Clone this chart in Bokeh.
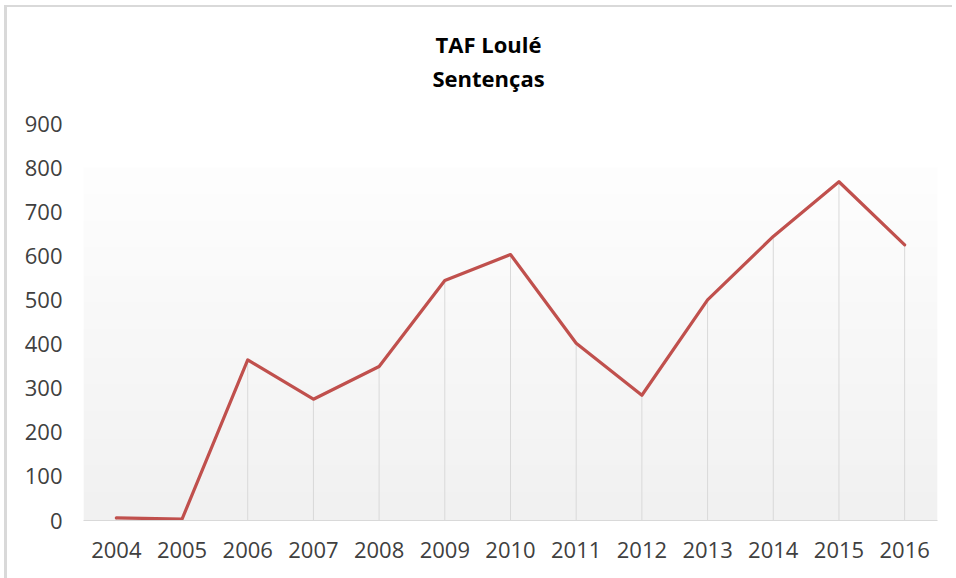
import numpy as np
from bokeh.plotting import figure
from bokeh.layouts import column, row
from bokeh.models import Range1d, FixedTicker, NumeralTickFormatter, Title, Div, Spacer
from bokeh.embed import file_html
from bokeh.resources import INLINE

# ---- data ----
years = [2004, 2005, 2006, 2007, 2008, 2009, 2010, 2011, 2012, 2013, 2014, 2015, 2016]
sentencas = [6, 3, 364, 275, 349, 544, 603, 402, 284, 500, 644, 768, 625]
y_ticks = [0, 100, 200, 300, 400, 500, 600, 700, 800, 900]
title_line1 = "TAF Loulé"
title_line2 = "Sentenças"

FONT = "Open Sans"
LABEL_COLOR = "#404040"

p = figure(
    frame_width=854, frame_height=397,
    x_range=Range1d(years[0] - 0.5, years[-1] + 0.5),
    y_range=Range1d(0, 900),
    output_backend="svg", toolbar_location=None,
    min_border_left=76, min_border_right=12,
    min_border_top=116, min_border_bottom=50,
    background_fill_color="white", border_fill_color="white",
    outline_line_color=None,
)

# titles (spacer first, then subtitle, then main title)
spacer = Title(text=" ", text_font_size="1px", standoff=26)
t2 = Title(text=title_line2, align="left", text_font=FONT, text_font_style="bold",
           text_font_size="22px", text_color="#000000", offset=349, standoff=4)
t1 = Title(text=title_line1, align="left", text_font=FONT, text_font_style="bold",
           text_font_size="22px", text_color="#000000", offset=352, standoff=0)
p.add_layout(spacer, "above")
p.add_layout(t2, "above")
p.add_layout(t1, "above")

# gradient plot-area background (white -> light gray), from 800 down to 0
nrows = 200
shade = np.linspace(0xf1, 0xfe, nrows).astype(np.uint8)  # bottom row first
img = np.zeros((nrows, 1), dtype=np.uint32)
view = img.view(dtype=np.uint8).reshape((nrows, 1, 4))
view[:, 0, 0] = shade
view[:, 0, 1] = shade
view[:, 0, 2] = shade
view[:, 0, 3] = 255
p.image_rgba(image=[img], x=years[0] - 0.5, y=0, dw=len(years), dh=y_ticks[-2])

# drop lines
p.segment(x0=years, y0=[0] * len(years), x1=years, y1=sentencas,
          line_color="#d9d9d9", line_width=1)

# series line
p.line(years, sentencas, line_color="#c0504d", line_width=3.2,
       line_join="round", line_cap="round")

# axes styling
p.xgrid.visible = False
p.ygrid.visible = False

p.xaxis.ticker = FixedTicker(ticks=years)
p.xaxis.formatter = NumeralTickFormatter(format="0")
p.xaxis.axis_line_color = "#d9d9d9"
p.xaxis.axis_line_width = 1
p.xaxis.major_tick_line_color = None
p.xaxis.minor_tick_line_color = None
p.xaxis.major_label_text_font = FONT
p.xaxis.major_label_text_font_size = "22px"
p.xaxis.major_label_text_color = LABEL_COLOR
p.xaxis.major_label_standoff = 15

p.yaxis.ticker = FixedTicker(ticks=y_ticks)
p.yaxis.axis_line_color = None
p.yaxis.major_tick_line_color = None
p.yaxis.minor_tick_line_color = None
p.yaxis.major_label_text_font = FONT
p.yaxis.major_label_text_font_size = "22px"
p.yaxis.major_label_text_color = LABEL_COLOR
p.yaxis.major_label_standoff = 15

# chart frame border (light gray strips at left and top)
top_strip = Div(text="", width=948, height=2, margin=0,
                styles={"background-color": "#d9d9d9"})
left_strip = Div(text="", width=3, height=571, margin=0,
                 styles={"background-color": "#d9d9d9"})
layout = column(
    Spacer(height=5, margin=0),
    row(Spacer(width=4, margin=0), top_strip, spacing=0, margin=0),
    row(Spacer(width=4, margin=0), left_strip, p, spacing=0, margin=0),
    spacing=0, margin=0,
)

open("out.html", "w").write(file_html(layout, INLINE))
